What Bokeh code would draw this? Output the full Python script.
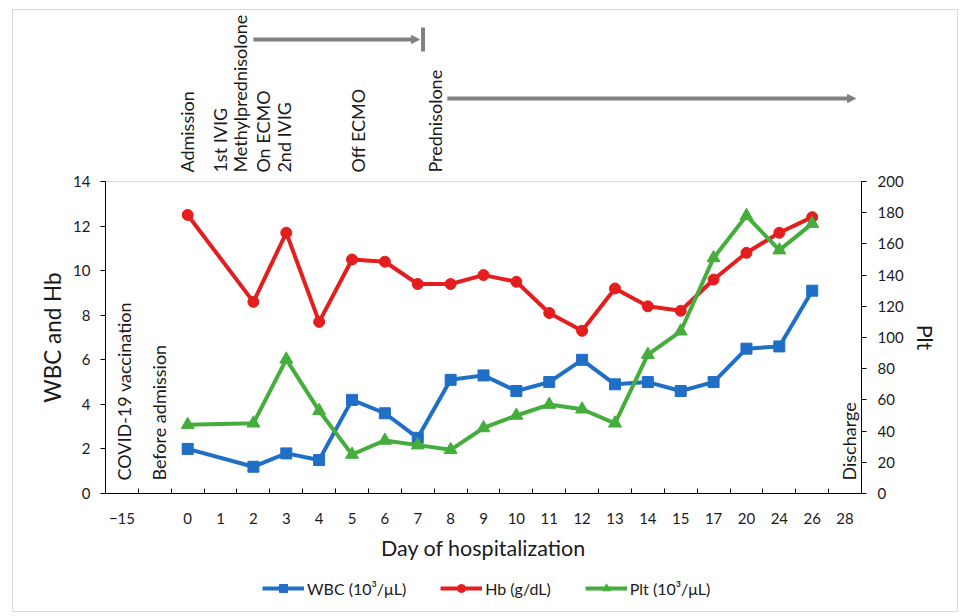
import math
from bokeh.plotting import figure
from bokeh.layouts import column
from bokeh.models import (Range1d, LinearAxis, FixedTicker,
                          Arrow, NormalHead, TeeHead, Legend, LegendItem)
from bokeh.core.properties import value
from bokeh.embed import file_html
from bokeh.resources import INLINE

# ---------------- data ----------------
categories = ["\u221215", " ", "0", "1", "2", "3", "4", "5", "6", "7", "8", "9",
              "10", "11", "12", "13", "14", "15", "17", "20", "24", "26", "28"]
tick_labels = ["\u221215", "", "0", "1", "2", "3", "4", "5", "6", "7", "8", "9",
               "10", "11", "12", "13", "14", "15", "17", "20", "24", "26", "28"]

days = ["0", "2", "3", "4", "5", "6", "7", "8", "9", "10", "11", "12", "13",
        "14", "15", "17", "20", "24", "26"]
wbc = [2.0, 1.2, 1.8, 1.5, 4.2, 3.6, 2.5, 5.1, 5.3, 4.6, 5.0, 6.0, 4.9, 5.0,
       4.6, 5.0, 6.5, 6.6, 9.1]
hb = [12.5, 8.6, 11.7, 7.7, 10.5, 10.4, 9.4, 9.4, 9.8, 9.5, 8.1, 7.3, 9.2,
      8.4, 8.2, 9.6, 10.8, 11.7, 12.4]
plt_vals = [44, 45, 86, 53, 25, 34, 31, 28, 42, 50, 57, 54, 45, 89, 104, 151,
            178, 156, 173]

series_names = ["WBC (10\u00b3/\u03bcL)", "Hb (g/dL)", "Plt (10\u00b3/\u03bcL)"]

top_notes = ["Admission", "1st IVIG", "Methylprednisolone", "On ECMO",
             "2nd IVIG", "Off ECMO", "Prednisolone"]
inner_notes = ["COVID-19 vaccination", "Before admission", "Discharge"]

# category slot of each observation day (the axis is one slot per category)
xpos = [categories.index(d) for d in days]

FONT = "Lato"
TXT = "#1a1a1a"
BLUE = "#1f6fc6"
RED = "#e41e1e"
GREEN = "#45ad3c"
GREY = "#808080"

FW, LEFT, RIGHT = 756, 92, 96
xr = Range1d(-0.5, len(categories) - 0.5)


def bare(fig):
    fig.xgrid.visible = False
    fig.ygrid.visible = False
    fig.outline_line_color = None


# ---------------- strip above the plot (event notes + treatment arrows) --------
pt = figure(frame_width=FW, frame_height=163, output_backend="svg", toolbar_location=None,
            x_range=xr, y_range=Range1d(14.36, 21.67),
            x_axis_location=None, y_axis_location=None,
            min_border_left=LEFT, min_border_right=RIGHT, min_border_top=0,
            min_border_bottom=0)
bare(pt)
top_x = [1.99, 2.99, 3.60, 4.29, 4.93, 7.17, 9.52]
pt.text(x=top_x, y=[14.40] * len(top_x), text=top_notes, angle=math.pi / 2,
        text_align="left", text_baseline="middle", text_font=value(FONT),
        text_font_size="18px", text_color=TXT)
pt.add_layout(Arrow(x_start=4.0, y_start=20.37, x_end=9.05, y_end=20.37,
                    line_color=GREY, line_width=4,
                    end=NormalHead(size=8, fill_color=GREY, line_color=GREY, line_width=1)))
pt.add_layout(Arrow(x_start=4.0, y_start=20.37, x_end=9.16, y_end=20.37,
                    line_alpha=0, line_width=1,
                    end=TeeHead(size=24, line_color=GREY, line_width=4)))
pt.add_layout(Arrow(x_start=9.9, y_start=17.72, x_end=22.32, y_end=17.72,
                    line_color=GREY, line_width=4,
                    end=NormalHead(size=8, fill_color=GREY, line_color=GREY, line_width=1)))

# ---------------- main plot ----------------
p = figure(frame_width=FW, frame_height=312, output_backend="svg", toolbar_location=None,
           x_range=xr, y_range=Range1d(0, 14),
           x_axis_location=None, y_axis_location=None,
           min_border_left=LEFT, min_border_right=RIGHT, min_border_top=8,
           min_border_bottom=75)
p.extra_y_ranges = {"plt": Range1d(0, 200)}
p.xgrid.visible = False
p.ygrid.visible = False
p.outline_line_color = "#d9d9d9"


def style_axis(ax):
    ax.axis_line_color = "black"
    ax.axis_line_width = 1
    ax.major_tick_line_color = "black"
    ax.major_label_text_font = FONT
    ax.major_label_text_color = TXT
    ax.axis_label_text_font = FONT
    ax.axis_label_text_color = TXT
    ax.axis_label_text_font_style = "normal"
    ax.minor_tick_line_color = None


# x axis (labels at category centres, ticks between categories)
xax = LinearAxis(ticker=FixedTicker(ticks=list(range(len(categories))),
                                    minor_ticks=[i - 0.5 for i in range(len(categories) + 1)]),
                 major_label_overrides={i: lab for i, lab in enumerate(tick_labels)},
                 axis_label="Day of hospitalization")
style_axis(xax)
xax.major_tick_line_color = None
xax.minor_tick_line_color = "black"
xax.minor_tick_in = 5
xax.minor_tick_out = 0
xax.major_label_standoff = 13
xax.major_label_text_font_size = "15px"
xax.axis_label_text_font_size = "21.5px"
xax.axis_label_standoff = 8
p.add_layout(xax, "below")

# left axis
yax = LinearAxis(ticker=FixedTicker(ticks=list(range(0, 15, 2))), axis_label="WBC and Hb")
style_axis(yax)
yax.major_tick_in = 0
yax.major_tick_out = 5
yax.major_label_standoff = 10
yax.major_label_text_font_size = "15px"
yax.axis_label_text_font_size = "22.5px"
yax.axis_label_standoff = 4
p.add_layout(yax, "left")

# right axis
rax = LinearAxis(y_range_name="plt", ticker=FixedTicker(ticks=list(range(0, 201, 20))),
                 axis_label="Plt")
style_axis(rax)
rax.major_tick_in = 0
rax.major_tick_out = 5
rax.major_label_standoff = 11
rax.major_label_text_font_size = "15px"
rax.axis_label_text_font_size = "21.5px"
rax.axis_label_standoff = 5
p.add_layout(rax, "right")

# series
series_vals = [wbc, hb, plt_vals]
styles = [dict(color=BLUE, marker="square", size=11),
          dict(color=RED, marker="circle", size=11),
          dict(color=GREEN, marker="triangle", size=13)]
for vals, st, yr in zip(series_vals, styles, ["default", "default", "plt"]):
    p.line(xpos, vals, line_color=st["color"], line_width=4, y_range_name=yr)
    p.scatter(xpos, vals, marker=st["marker"], size=st["size"], fill_color=st["color"],
              line_color=st["color"], y_range_name=yr)

# notes inside the plot
inner_x = [0.05, 1.14, 22.13]
p.text(x=inner_x, y=[0.58] * len(inner_x), text=inner_notes, angle=math.pi / 2,
       text_align="left", text_baseline="middle", text_font=value(FONT),
       text_font_size="18px", text_color=TXT)

# ---------------- legend strip (series re-plotted off-frame as legend proxies) -----
pl = figure(frame_width=FW, frame_height=43, output_backend="svg", toolbar_location=None,
            x_range=xr, y_range=Range1d(1000, 1001),
            x_axis_location=None, y_axis_location=None,
            min_border_left=LEFT, min_border_right=RIGHT, min_border_top=0,
            min_border_bottom=0)
bare(pl)
items = []
for name, vals, st in zip(series_names, series_vals, styles):
    lr = pl.line(xpos, vals, line_color=st["color"], line_width=4)
    sr = pl.scatter(xpos, vals, marker=st["marker"], size=st["size"], fill_color=st["color"],
                    line_color=st["color"])
    items.append(LegendItem(label=name, renderers=[lr, sr]))
legend = Legend(items=items, orientation="horizontal", location=(157, 13))
legend.border_line_color = None
legend.background_fill_alpha = 0
legend.label_text_font = FONT
legend.label_text_font_size = "16px"
legend.label_text_color = TXT
legend.glyph_width = 42
legend.glyph_height = 20
legend.spacing = 34
legend.label_standoff = 3
legend.padding = 0
legend.margin = 0
pl.add_layout(legend, "center")

layout = column(pt, p, pl, spacing=0,
                styles={"border": "1px solid #d9d9d9", "margin-left": "12px",
                        "margin-top": "9px", "background-color": "white"})

open("out.html", "w").write(file_html(layout, INLINE))
